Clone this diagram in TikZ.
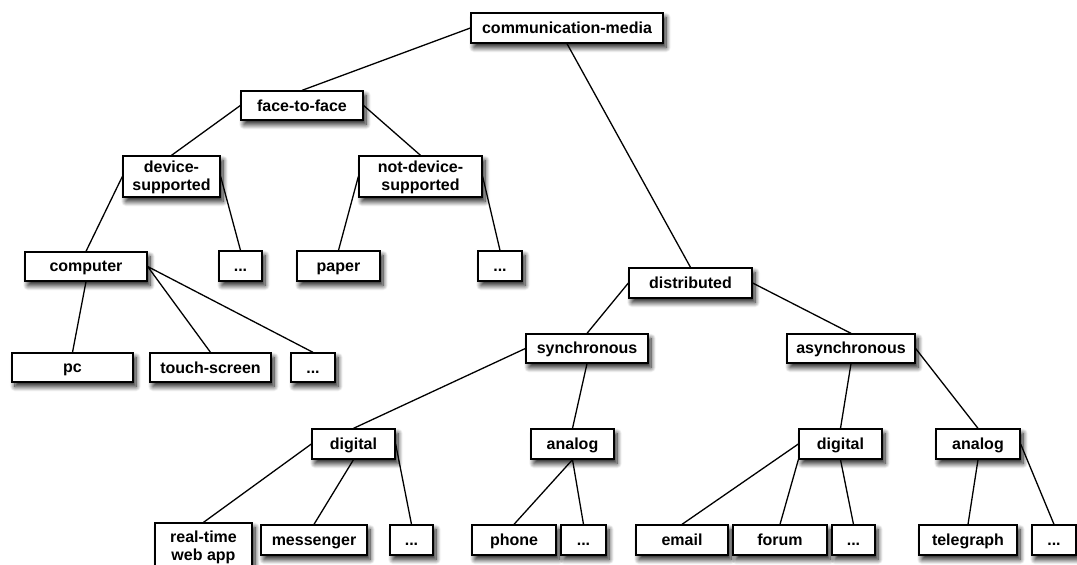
\documentclass[tikz,border=0pt]{standalone}
\usepackage{fontspec}
\setmainfont{Liberation Sans}
\usetikzlibrary{shadows.blur}

% a box given by its left, top, right and bottom edges (y grows downwards);
% the rule keeps every first line on the same baseline
\newcommand\treebox[6]{%
  \node[treenode, minimum width={(#4-#2)*1pt}, minimum height={(#5-#3)*1pt}]
    (#1) at ({(#2+#4)/2},{(#3+#5)/2}) {\rule[-3pt]{0pt}{17pt}#6};}

\begin{document}
\begin{tikzpicture}[x=1pt, y=-1pt,
  treenode/.style={draw=black, fill=white, line width=1.3pt, inner sep=0pt,
    align=center, font=\fontsize{16}{18}\selectfont\bfseries,
    blur shadow={shadow xshift=3pt, shadow yshift=-4.5pt,
      shadow blur radius=5pt, shadow blur steps=10, shadow opacity=90}},
  edge/.style={draw=black, line width=1.3pt}]
\useasboundingbox (0,0) rectangle (1077,565);
\clip (0,0) rectangle (1077,565);

% nodes
\treebox{cm}{471}{13}{663}{43}{communication-media}
\treebox{ff}{241}{91}{363}{120}{face-to-face}
\treebox{ds}{123}{156}{220}{197}{device-\\supported}
\treebox{nds}{359}{156}{482}{197}{not-device-\\supported}
\treebox{comp}{25}{252}{147}{281}{computer}
\treebox{dsmore}{219}{251}{262}{281}{...}
\treebox{paper}{297}{251}{380}{281}{paper}
\treebox{ndsmore}{478}{251}{522}{281}{...}
\treebox{pc}{12}{353}{133}{382}{pc}
\treebox{touch}{150}{353}{271}{382}{touch-screen}
\treebox{compmore}{291}{353}{335}{382}{...}
\treebox{dist}{629}{268}{752}{298}{distributed}
\treebox{sync}{526}{334}{648}{363}{synchronous}
\treebox{async}{787}{334}{915}{363}{asynchronous}
\treebox{sdig}{312}{429}{395}{459}{digital}
\treebox{sana}{531}{429}{614}{459}{analog}
\treebox{adig}{799}{429}{882}{459}{digital}
\treebox{aana}{936}{429}{1020}{459}{analog}
\treebox{rt}{155}{523}{252}{569}{real-time\\web app}
\treebox{msg}{261}{525}{367}{555}{messenger}
\treebox{sdigmore}{390}{525}{433}{555}{...}
\treebox{phone}{472}{525}{556}{555}{phone}
\treebox{sanamore}{561}{525}{606}{555}{...}
\treebox{email}{636}{525}{728}{555}{email}
\treebox{forum}{733}{525}{827}{555}{forum}
\treebox{adigmore}{832}{525}{875}{555}{...}
\treebox{tele}{919}{525}{1017}{555}{telegraph}
\treebox{aanamore}{1032}{525}{1076}{555}{...}

% connectors
\path[edge]
  (cm.west) -- (ff.north)
  (cm.south) -- (dist.north)
  (ff.west) -- (ds.north)
  (ff.east) -- (nds.north)
  (ds.west) -- (comp.north)
  (ds.east) -- (dsmore.north)
  (nds.west) -- (paper.north)
  (nds.east) -- (ndsmore.north)
  (comp.south) -- (pc.north)
  (comp.east) -- (touch.north)
  (comp.east) -- (compmore.north)
  (dist.west) -- (sync.north)
  (dist.east) -- (async.north)
  (sync.west) -- (sdig.north)
  (sync.south) -- (sana.north)
  (async.south) -- (adig.north)
  (async.east) -- (aana.north)
  (sdig.west) -- (rt.north)
  (sdig.south) -- (msg.north)
  (sdig.east) -- (sdigmore.north)
  (sana.south) -- (phone.north)
  (sana.south) -- (sanamore.north)
  (adig.west) -- (email.north)
  (adig.south west) -- (forum.north)
  (adig.south) -- (adigmore.north)
  (aana.south) -- (tele.north)
  (aana.east) -- (aanamore.north);
\end{tikzpicture}
\end{document}
